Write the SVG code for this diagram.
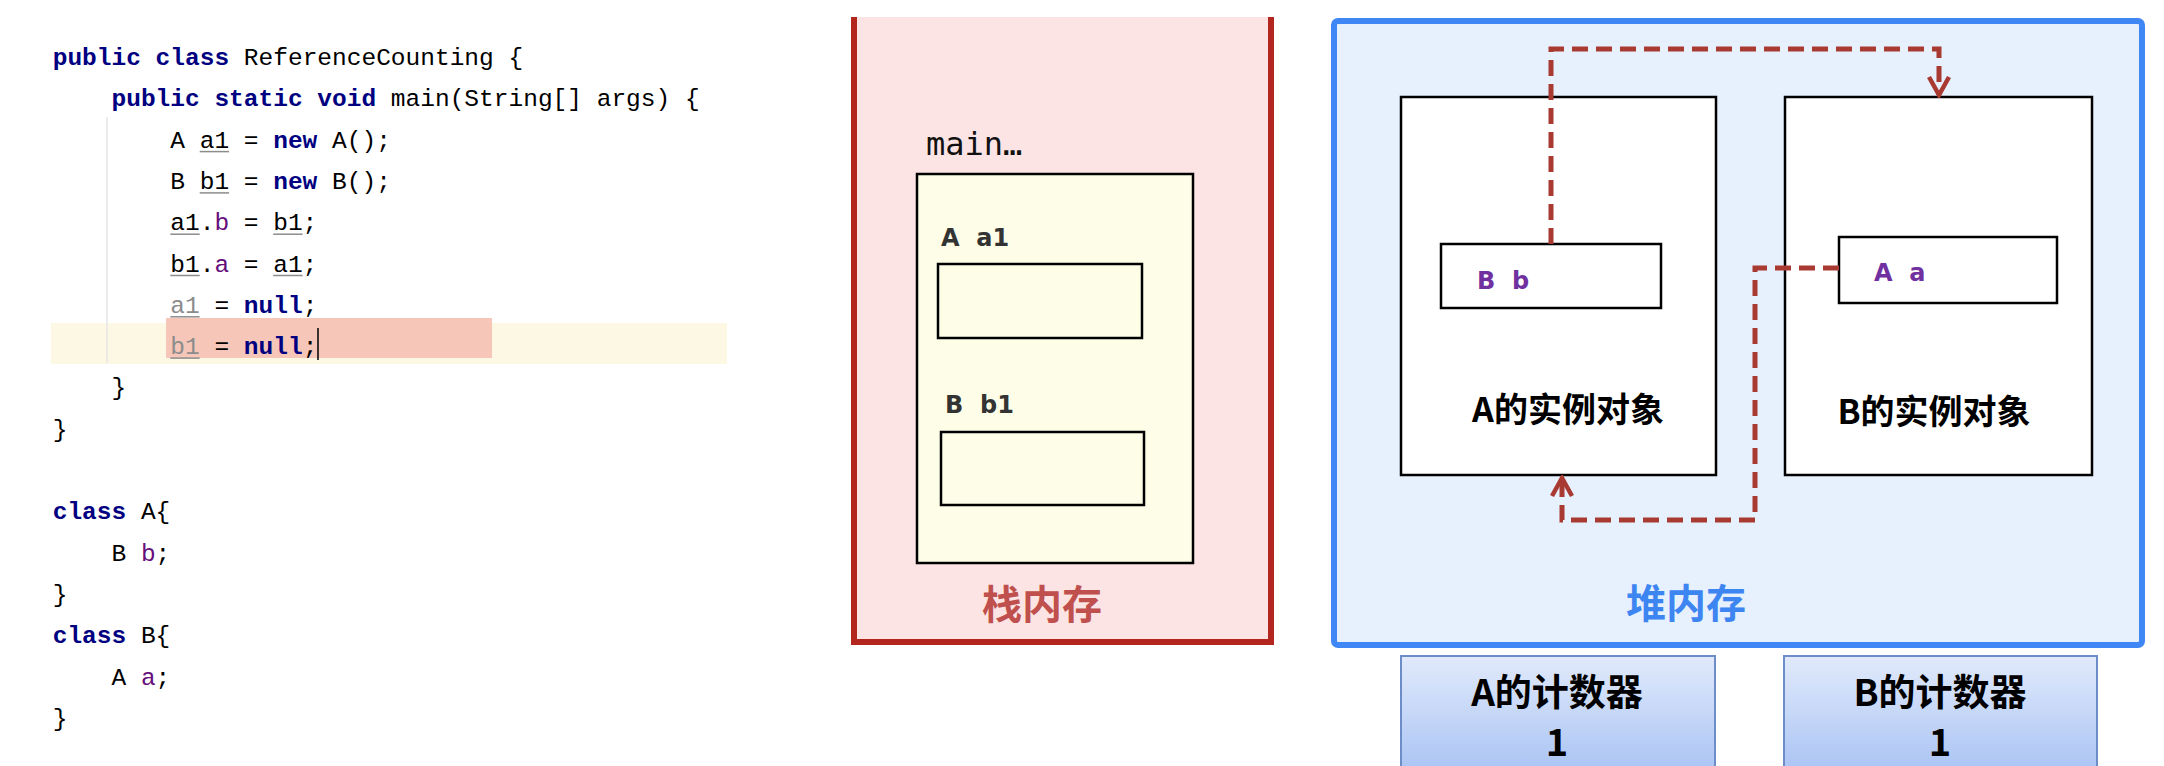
<svg xmlns="http://www.w3.org/2000/svg" width="2164" height="766" viewBox="0 0 2164 766">
<style>
.code{font-family:"Liberation Mono","DejaVu Sans Mono",monospace;font-size:24.5px;fill:#000}
.kw{fill:#000080;font-weight:bold}
.fld{fill:#660e7a}
.gry{fill:#8c8c8c}
.ul{stroke:#8c8c8c;stroke-width:1.5}
.box{stroke:#000;stroke-width:2.5}
.lbl{font-family:"DejaVu Sans","Liberation Sans",sans-serif;font-weight:bold;font-size:24px}
.cjk{font-family:"Noto Sans CJK SC","Noto Sans",sans-serif;font-weight:bold}
.dash{fill:none;stroke:#a83a32;stroke-width:5;stroke-dasharray:16 8}
</style>
<defs>
<marker id="arr" viewBox="0 0 26 26" refX="23" refY="13" markerWidth="26" markerHeight="26" markerUnits="userSpaceOnUse" orient="auto">
<path d="M5 3 L23 13 L5 23" fill="none" stroke="#a83a32" stroke-width="4.5"/>
</marker>
<linearGradient id="cnt" x1="0" y1="0" x2="0" y2="1">
<stop offset="0" stop-color="#e1eafb"/>
<stop offset="1" stop-color="#a6c1f3"/>
</linearGradient>
</defs>
<rect width="2164" height="766" fill="#fff"/>

<g id="code">
<rect x="51" y="323" width="676" height="41" fill="#fdf8e4"/>
<rect x="166" y="318" width="326" height="40" fill="#f6c6b8"/>
<line x1="107" y1="117" x2="107" y2="363" stroke="#e6e6e6" stroke-width="1.5"/>
<text class="code" xml:space="preserve" x="52.7" y="65"><tspan class="kw">public class</tspan> ReferenceCounting {</text>
<text class="code" xml:space="preserve" x="111.5" y="106.3"><tspan class="kw">public static void</tspan> main(String[] args) {</text>
<text class="code" xml:space="preserve" x="170.3" y="147.6">A a1 = <tspan class="kw">new</tspan> A();</text>
<text class="code" xml:space="preserve" x="170.3" y="188.9">B b1 = <tspan class="kw">new</tspan> B();</text>
<text class="code" xml:space="preserve" x="170.3" y="230.2">a1.<tspan class="fld">b</tspan> = b1;</text>
<text class="code" xml:space="preserve" x="170.3" y="271.5">b1.<tspan class="fld">a</tspan> = a1;</text>
<text class="code" xml:space="preserve" x="170.3" y="312.8"><tspan class="gry">a1</tspan> = <tspan class="kw">null</tspan>;</text>
<text class="code" xml:space="preserve" x="170.3" y="354.1"><tspan class="gry">b1</tspan> = <tspan class="kw">null</tspan>;</text>
<text class="code" x="111.5" y="395.4">}</text>
<text class="code" x="52.7" y="436.7">}</text>
<text class="code" xml:space="preserve" x="52.7" y="519.3"><tspan class="kw">class</tspan> A{</text>
<text class="code" xml:space="preserve" x="111.5" y="560.6">B <tspan class="fld">b</tspan>;</text>
<text class="code" x="52.7" y="601.9">}</text>
<text class="code" xml:space="preserve" x="52.7" y="643.2"><tspan class="kw">class</tspan> B{</text>
<text class="code" xml:space="preserve" x="111.5" y="684.5">A <tspan class="fld">a</tspan>;</text>
<text class="code" x="52.7" y="725.8">}</text>
<g class="ul">
<line x1="199.7" y1="151.6" x2="229.1" y2="151.6"/>
<line x1="199.7" y1="192.9" x2="229.1" y2="192.9"/>
<line x1="170.3" y1="234.2" x2="199.7" y2="234.2"/>
<line x1="273.2" y1="234.2" x2="302.6" y2="234.2"/>
<line x1="170.3" y1="275.5" x2="199.7" y2="275.5"/>
<line x1="273.2" y1="275.5" x2="302.6" y2="275.5"/>
<line x1="170.3" y1="316.8" x2="199.7" y2="316.8"/>
<line x1="170.3" y1="358.1" x2="199.7" y2="358.1"/>
</g>
<line x1="318" y1="328" x2="318" y2="360" stroke="#000" stroke-width="1.5"/>
</g>

<g id="stack">
<rect x="854" y="17" width="417" height="625" fill="#fce4e4"/>
<path d="M854 17 V642 H1271 V17" fill="none" stroke="#b3261e" stroke-width="6"/>
<text x="926" y="155" font-family="DejaVu Sans Mono, monospace" font-size="32" fill="#111">main…</text>
<text class="cjk" x="1042" y="619" font-size="40" fill="#c0504d" text-anchor="middle">栈内存</text>
</g>

<g id="main-frame">
<rect class="box" x="917" y="174" width="276" height="389" fill="#fefee8"/>
</g>
<g id="a1">
<text class="lbl" xml:space="preserve" x="941" y="246" fill="#333">A  a1</text>
<rect class="box" x="938" y="264" width="204" height="74" fill="#fefee8"/>
</g>
<g id="b1">
<text class="lbl" xml:space="preserve" x="945" y="413" fill="#333">B  b1</text>
<rect class="box" x="941" y="432" width="203" height="73" fill="#fefee8"/>
</g>

<g id="heap">
<rect x="1334" y="21" width="808" height="624" rx="4" fill="#e7f0fd" stroke="#3f87f5" stroke-width="6"/>
<text class="cjk" x="1686" y="618" font-size="40" fill="#3d85f0" text-anchor="middle">堆内存</text>
</g>

<g id="objA">
<rect class="box" x="1401" y="97" width="315" height="378" fill="#fff"/>
<text class="cjk" x="1568" y="422" font-size="34" fill="#000" text-anchor="middle">A的实例对象</text>
</g>
<g id="fieldB">
<rect class="box" x="1441" y="244" width="220" height="64" fill="#fff"/>
<text class="lbl" xml:space="preserve" x="1477" y="289" fill="#7030a0">B  b</text>
</g>

<g id="objB">
<rect class="box" x="1785" y="97" width="307" height="378" fill="#fff"/>
<text class="cjk" x="1934" y="424" font-size="34" fill="#000" text-anchor="middle">B的实例对象</text>
</g>
<g id="fieldA">
<rect class="box" x="1839" y="237" width="218" height="66" fill="#fff"/>
<text class="lbl" xml:space="preserve" x="1874" y="281" fill="#7030a0">A  a</text>
</g>

<g id="connectors">
<path class="dash" d="M1551 244 V49 H1939 V95" marker-end="url(#arr)"/>
<path class="dash" d="M1839 268 H1755 V520 H1562 V478" marker-end="url(#arr)"/>
</g>

<g id="counterA">
<rect x="1401" y="656" width="314" height="124" fill="url(#cnt)" stroke="#6d8dc8" stroke-width="2"/>
<text class="cjk" x="1557" y="706" font-size="37" fill="#000" text-anchor="middle">A的计数器</text>
<text class="cjk" x="1557" y="756" font-size="38" fill="#000" text-anchor="middle">1</text>
</g>
<g id="counterB">
<rect x="1784" y="656" width="313" height="124" fill="url(#cnt)" stroke="#6d8dc8" stroke-width="2"/>
<text class="cjk" x="1940" y="706" font-size="37" fill="#000" text-anchor="middle">B的计数器</text>
<text class="cjk" x="1940" y="756" font-size="38" fill="#000" text-anchor="middle">1</text>
</g>
</svg>
